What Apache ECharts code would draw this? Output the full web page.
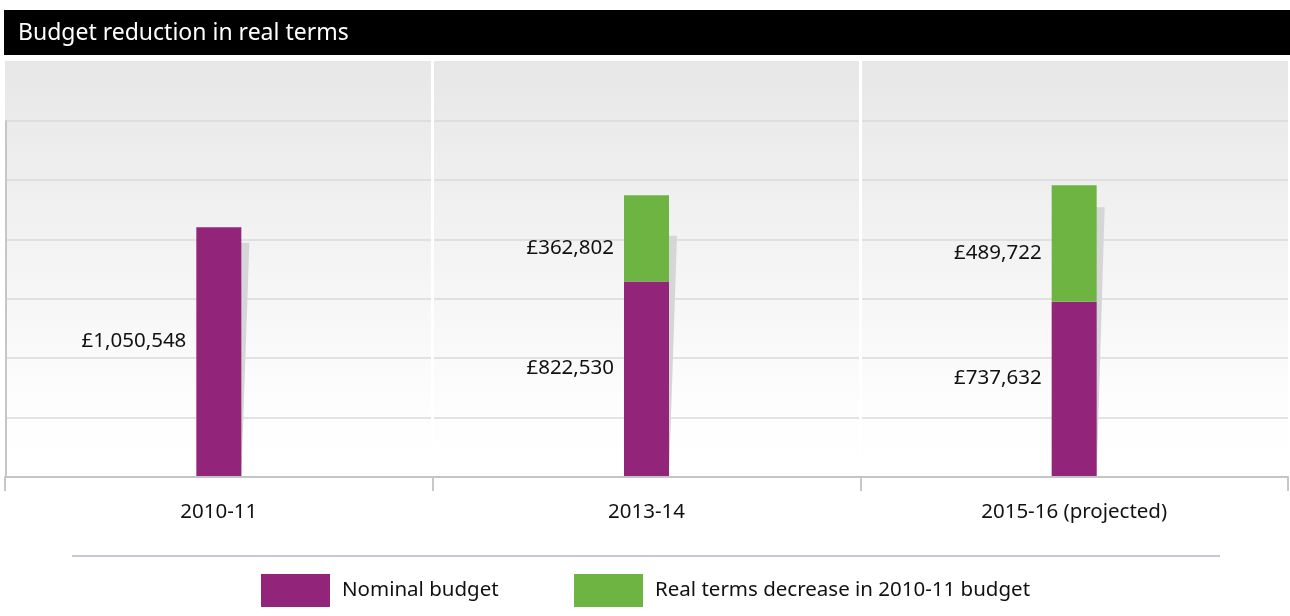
<!DOCTYPE html>
<html>
<head>
<meta charset="utf-8">
<script src="https://cdn.jsdelivr.net/npm/echarts@6/dist/echarts.min.js"></script>
<style>
  html, body { margin: 0; padding: 0; background: #fff; }
  #chart { width: 1290px; height: 616px; }
</style>
</head>
<body>
<div id="chart"></div>
<script>
// Budget per year, in pounds
const categories = ['2010-11', '2013-14', '2015-16 (projected)'];
const nominalBudget = [1050548, 822530, 737632];
const realTermsDecrease = ['-', 362802, 489722];
// Height reached by the soft drop shadow drawn beside each column
const shadowLevel = [985000, 1015000, 1135000];
const seriesNames = ['Nominal budget', 'Real terms decrease in 2010-11 budget'];

const FONT = 'Noto Sans';
const TEXT_SIZE = 20.5;
const PURPLE = '#92247A';
const GREEN = '#6EB443';
const BAR_W = 45;

const fmt = v => '£' + Number(v).toLocaleString('en-GB');

const chart = echarts.init(document.getElementById('chart'), null, { renderer: 'canvas' });

const legendBase = {
  top: 574, padding: 0,
  icon: 'rect', itemWidth: 69, itemHeight: 33,
  selectedMode: false,
  textStyle: { fontSize: TEXT_SIZE, color: '#111', fontFamily: FONT, padding: [0, 0, 0, 7] }
};

const option = {
  animation: false,
  textStyle: { fontFamily: FONT },
  title: {
    text: 'Budget reduction in real terms',
    left: 18,
    top: 22,
    padding: 0,
    textStyle: { color: '#fff', fontSize: 23, fontWeight: 'normal', fontFamily: FONT }
  },
  grid: {
    left: 5, right: 2, top: 61, bottom: 139,
    show: true,
    borderWidth: 0,
    backgroundColor: new echarts.graphic.LinearGradient(0, 0, 0, 1, [
      { offset: 0, color: '#e7e7e7' },
      { offset: 0.82, color: '#fdfdfd' },
      { offset: 1, color: '#ffffff' }
    ])
  },
  legend: [
    Object.assign({ data: [seriesNames[0]], left: 261 }, legendBase),
    Object.assign({ data: [seriesNames[1]], left: 574 }, legendBase)
  ],
  xAxis: {
    type: 'category',
    data: categories,
    boundaryGap: true,
    z: 3,
    axisLine: { show: true, lineStyle: { color: '#c4c4c4', width: 2 } },
    axisTick: { show: true, length: 14, lineStyle: { color: '#c8c8c8', width: 2 } },
    axisLabel: { fontSize: TEXT_SIZE, color: '#111', margin: 25, fontFamily: FONT },
    splitLine: {
      show: true, showMinLine: false, showMaxLine: false,
      lineStyle: { color: '#ffffff', width: 3 }
    }
  },
  yAxis: {
    type: 'value',
    min: 0,
    max: 1750000,
    interval: 250000,
    axisLine: { show: false },
    axisTick: { show: false },
    axisLabel: { show: false },
    splitLine: {
      show: true, showMinLine: false, showMaxLine: false,
      lineStyle: { color: '#dadada', width: 1.5 }
    }
  },
  series: [
    {
      type: 'custom',
      z: 1,
      silent: true,
      data: shadowLevel.map((v, i) => [i, v]),
      encode: { x: 0, y: 1 },
      renderItem: function (params, api) {
        const base = api.coord([api.value(0), 0]);
        const top = api.coord([api.value(0), api.value(1)]);
        const right = base[0] + BAR_W / 2;
        return {
          type: 'polygon',
          shape: {
            points: [
              [right - 2, top[1]],
              [right + 8, top[1]],
              [right, base[1]],
              [right - 2, base[1]]
            ]
          },
          style: { fill: '#d5d6d8' }
        };
      }
    },
    {
      name: seriesNames[0],
      type: 'bar',
      stack: 'budget',
      z: 2,
      barWidth: BAR_W,
      data: nominalBudget,
      itemStyle: { color: PURPLE },
      label: {
        show: true, position: 'left', distance: 10, offset: [0, -11],
        fontSize: TEXT_SIZE, color: '#111', fontFamily: FONT,
        formatter: p => fmt(p.value)
      }
    },
    {
      name: seriesNames[1],
      type: 'bar',
      stack: 'budget',
      z: 2,
      barWidth: BAR_W,
      data: realTermsDecrease,
      itemStyle: { color: GREEN },
      label: {
        show: true, position: 'left', distance: 10, offset: [0, 10],
        fontSize: TEXT_SIZE, color: '#111', fontFamily: FONT,
        formatter: p => fmt(p.value)
      }
    }
  ]
};

chart.setOption(option);

// Frame pieces: heading bar, left rule of the plot and the rule above the legend
const x0 = chart.convertToPixel({ xAxisIndex: 0 }, 0);
const x1 = chart.convertToPixel({ xAxisIndex: 0 }, 1);
const leftX = x0 - (x1 - x0) / 2;
const yTopRule = chart.convertToPixel({ yAxisIndex: 0 }, 1500000);
const yBase = chart.convertToPixel({ yAxisIndex: 0 }, 0);

chart.setOption({
  graphic: [
    { type: 'rect', z: -1, shape: { x: 4, y: 10, width: 1286, height: 45 }, style: { fill: '#000' } },
    { type: 'line', z: 10, shape: { x1: leftX + 1, y1: yTopRule, x2: leftX + 1, y2: yBase }, style: { stroke: '#c6c6c6', lineWidth: 2 } },
    { type: 'line', shape: { x1: 72, y1: 556, x2: 1220, y2: 556 }, style: { stroke: '#c8c8d0', lineWidth: 2 } }
  ]
});
</script>
</body>
</html>
